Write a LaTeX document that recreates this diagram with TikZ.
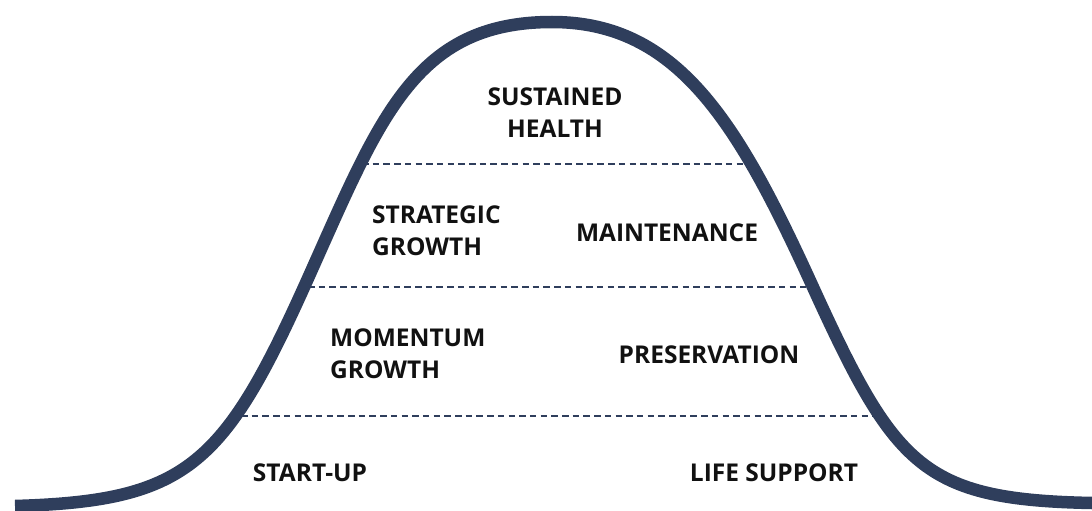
\documentclass[tikz,border=0pt]{standalone}
\usepackage{fontspec}
\setmainfont{Open Sans}
\usepackage{tikz}
\definecolor{curvenavy}{RGB}{47, 62, 92}
\definecolor{labelblack}{RGB}{17, 17, 17}

\tikzset{
  lifecurve/.style={line width=12.5pt, curvenavy},
  stageline/.style={line width=2.6pt, curvenavy, dash pattern=on 6.5pt off 4.2pt},
  stagelabel/.style={inner sep=0pt, text=labelblack, font=\fontsize{24.5}{32}\selectfont\bfseries}
}

\begin{document}
\begin{tikzpicture}[x=1pt, y=-1pt]
\useasboundingbox (0,0) rectangle (1092,511);

% Bell curve: rise, crest, fall, tail
\coordinate (tailL) at (15,506);
\coordinate (bendL) at (305,285);
\coordinate (crest) at (552,22);
\coordinate (bendR) at (812,285);
\coordinate (tailR) at (1092,503);
\draw[lifecurve] (tailL) .. controls (185,501) and (223,467) .. (bendL)
  .. controls (378.8,121.2) and (412,22) .. (crest)
  .. controls (677,22) and (737.3,121.2) .. (bendR)
  .. controls (895,467) and (922,499.6) .. (tailR);

% Stage boundaries
\coordinate (topL) at (362,164);
\coordinate (topR) at (749,164);
\coordinate (midL) at (308,287);
\coordinate (midR) at (806,287);
\coordinate (lowL) at (241,416);
\coordinate (lowR) at (873,416);
\draw[stageline] (topL) -- (topR);
\draw[stageline] (midL) -- (midR);
\draw[stageline] (lowL) -- (lowR);

% Labels
\node[stagelabel, align=center, anchor=base] (sustained) at (555,137) {SUSTAINED\\HEALTH};
\node[stagelabel, align=left, anchor=base west] (strategic) at (372,255) {STRATEGIC\\GROWTH};
\node[stagelabel, anchor=base] (maintenance) at (667,241) {MAINTENANCE};
\node[stagelabel, align=left, anchor=base west] (momentum) at (330,378) {MOMENTUM\\GROWTH};
\node[stagelabel, anchor=base] (preservation) at (709,363) {PRESERVATION};
\node[stagelabel, anchor=base] (startup) at (310,481) {START-UP};
\node[stagelabel, anchor=base] (lifesupport) at (774,481) {LIFE SUPPORT};

\end{tikzpicture}
\end{document}
